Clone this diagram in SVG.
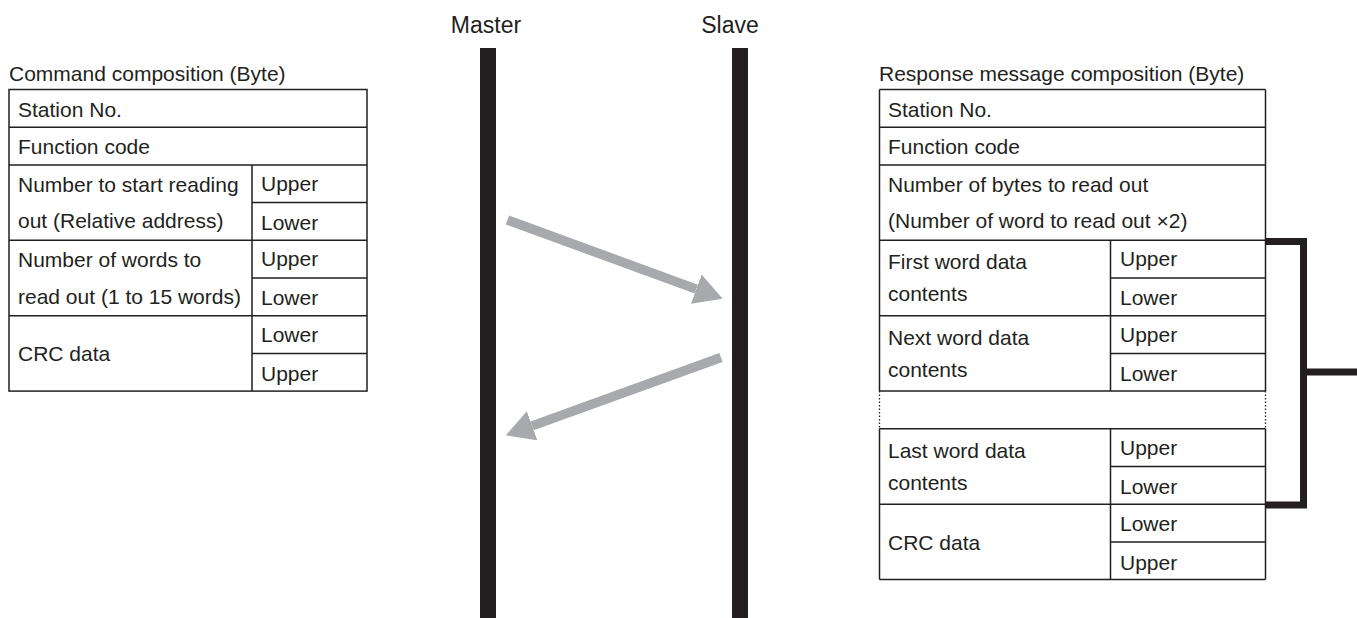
<svg xmlns="http://www.w3.org/2000/svg" width="1357" height="618" viewBox="0 0 1357 618">
<style>
text{font-family:"Liberation Sans",Arial,Helvetica,sans-serif;font-size:21px;fill:#231f20}
.lbl{font-size:23px;text-anchor:middle}
.tb{fill:none;stroke:#231f20;stroke-width:1.5}
.dot{fill:none;stroke:#231f20;stroke-width:1.3;stroke-dasharray:1.3 2.2}
.life{fill:#231f20}
.arr{stroke:#a7a9ac;stroke-width:9.4;fill:none}
.brk{fill:none;stroke:#231f20;stroke-width:7;stroke-linejoin:miter}
</style>
<defs>
<marker id="ah" markerUnits="userSpaceOnUse" markerWidth="30" markerHeight="32" viewBox="0 -16 30 32" refX="0" refY="0" orient="auto">
<path d="M0,-15.5 L28,0 L0,15.5 z" fill="#a7a9ac"/>
</marker>
</defs>
<rect width="1357" height="618" fill="#ffffff"/>

<g id="master">
<text class="lbl" x="486" y="33">Master</text>
<rect class="life" x="480" y="48" width="16" height="570"/>
</g>
<g id="slave">
<text class="lbl" x="730" y="33">Slave</text>
<rect class="life" x="732" y="48" width="16" height="570"/>
</g>

<g id="command-table">
<text x="9" y="81">Command composition (Byte)</text>
<rect class="tb" x="9" y="89.5" width="358" height="301.6"/>
<path class="tb" d="M9,127.2H367M9,164.9H367M9,240.3H367M9,315.7H367M252,202.6H367M252,278H367M252,353.4H367M252,164.9V391.1"/>
<text x="18" y="116.5">Station No.</text>
<text x="18" y="154">Function code</text>
<text x="18" y="191.5">Number to start reading</text>
<text x="18" y="228">out (Relative address)</text>
<text x="261" y="190.5">Upper</text>
<text x="261" y="229.5">Lower</text>
<text x="18" y="267">Number of words to</text>
<text x="18" y="303.5">read out (1 to 15 words)</text>
<text x="261" y="266">Upper</text>
<text x="261" y="305">Lower</text>
<text x="18" y="361">CRC data</text>
<text x="261" y="341.5">Lower</text>
<text x="261" y="380.5">Upper</text>
</g>

<g id="response-table">
<text x="879" y="81">Response message composition (Byte)</text>
<path class="tb" d="M879.5,89.5H1265.5M879.5,127.2H1265.5M879.5,164.9H1265.5M879.5,240.3H1265.5M879.5,315.7H1265.5M879.5,391.1H1265.5M879.5,428.8H1265.5M879.5,504.2H1265.5M879.5,579.6H1265.5M1110.5,278H1265.5M1110.5,353.4H1265.5M1110.5,466.5H1265.5M1110.5,541.9H1265.5M879.5,89.5V391.1M1265.5,89.5V391.1M879.5,428.8V579.6M1265.5,428.8V579.6M1110.5,240.3V391.1M1110.5,428.8V579.6"/>
<path class="dot" d="M879.5,391.1V428.8M1265.5,391.1V428.8"/>
<text x="888" y="116.5">Station No.</text>
<text x="888" y="154">Function code</text>
<text x="888" y="191.5">Number of bytes to read out</text>
<text x="888" y="228">(Number of word to read out ×2)</text>
<text x="888" y="269">First word data</text>
<text x="888" y="301">contents</text>
<text x="1120" y="266">Upper</text>
<text x="1120" y="305">Lower</text>
<text x="888" y="344.5">Next word data</text>
<text x="888" y="376.5">contents</text>
<text x="1120" y="341.5">Upper</text>
<text x="1120" y="380.5">Lower</text>
<text x="888" y="457.5">Last word data</text>
<text x="888" y="489.5">contents</text>
<text x="1120" y="454.5">Upper</text>
<text x="1120" y="493.5">Lower</text>
<text x="888" y="549.5">CRC data</text>
<text x="1120" y="530.5">Lower</text>
<text x="1120" y="569.5">Upper</text>
</g>

<g id="connectors">
<line class="arr" x1="507.5" y1="220" x2="696.3" y2="289.1" marker-end="url(#ah)"/>
<line class="arr" x1="721" y1="357.5" x2="532.1" y2="425.8" marker-end="url(#ah)"/>
<path class="brk" d="M1266,241.5H1303.5V505H1266M1303.5,372H1357"/>
</g>
</svg>
